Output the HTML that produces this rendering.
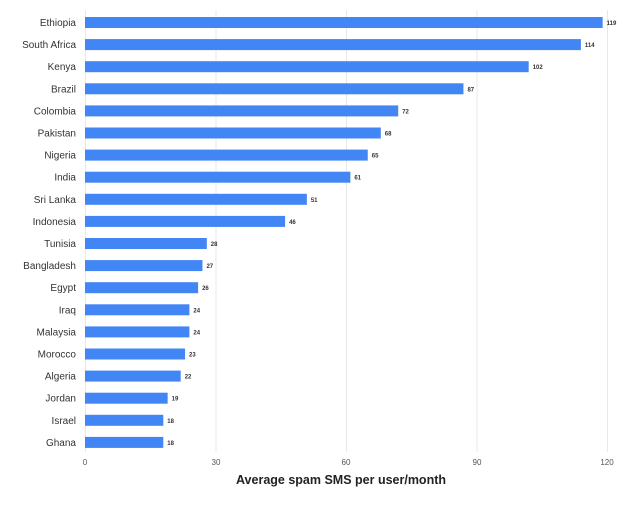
<!DOCTYPE html><html><head><style>body{margin:0;background:#fff}svg{display:block;font-family:"Liberation Sans",sans-serif}.n{font-size:10px;fill:#333;text-anchor:end}.v{font-size:6px;font-weight:bold;fill:#333}</style></head><body>
<svg width="644" height="505" xmlns="http://www.w3.org/2000/svg">
<g stroke="#e8e8e8" stroke-width="1">
<line x1="85.5" y1="10" x2="85.5" y2="452"/><line x1="216" y1="10" x2="216" y2="452"/><line x1="346.5" y1="10" x2="346.5" y2="452"/><line x1="477" y1="10" x2="477" y2="452"/><line x1="607.5" y1="10" x2="607.5" y2="452"/>
</g>
<g font-size="8" fill="#555" text-anchor="middle">
<text x="85" y="465">0</text><text x="216" y="465">30</text><text x="346" y="465">60</text><text x="477" y="465">90</text><text x="607" y="465">120</text>
</g>
<text x="341" y="484" font-size="12.5" font-weight="bold" fill="#222" text-anchor="middle">Average spam SMS per user/month</text>
<g fill="#4285f4">
<rect x="85" y="17" width="517.65" height="11"/>
<rect x="85" y="39.1" width="495.9" height="11"/>
<rect x="85" y="61.2" width="443.7" height="11"/>
<rect x="85" y="83.3" width="378.45" height="11"/>
<rect x="85" y="105.4" width="313.2" height="11"/>
<rect x="85" y="127.5" width="295.8" height="11"/>
<rect x="85" y="149.6" width="282.75" height="11"/>
<rect x="85" y="171.7" width="265.35" height="11"/>
<rect x="85" y="193.8" width="221.85" height="11"/>
<rect x="85" y="215.9" width="200.1" height="11"/>
<rect x="85" y="238" width="121.8" height="11"/>
<rect x="85" y="260.1" width="117.45" height="11"/>
<rect x="85" y="282.2" width="113.1" height="11"/>
<rect x="85" y="304.3" width="104.4" height="11"/>
<rect x="85" y="326.4" width="104.4" height="11"/>
<rect x="85" y="348.5" width="100.05" height="11"/>
<rect x="85" y="370.6" width="95.7" height="11"/>
<rect x="85" y="392.7" width="82.65" height="11"/>
<rect x="85" y="414.8" width="78.3" height="11"/>
<rect x="85" y="436.9" width="78.3" height="11"/>
</g>
<text class="n" x="76" y="26">Ethiopia</text>
<text class="n" x="76" y="48.1">South Africa</text>
<text class="n" x="76" y="70.2">Kenya</text>
<text class="n" x="76" y="92.3">Brazil</text>
<text class="n" x="76" y="114.4">Colombia</text>
<text class="n" x="76" y="136.5">Pakistan</text>
<text class="n" x="76" y="158.6">Nigeria</text>
<text class="n" x="76" y="180.7">India</text>
<text class="n" x="76" y="202.8">Sri Lanka</text>
<text class="n" x="76" y="224.9">Indonesia</text>
<text class="n" x="76" y="247">Tunisia</text>
<text class="n" x="76" y="269.1">Bangladesh</text>
<text class="n" x="76" y="291.2">Egypt</text>
<text class="n" x="76" y="313.3">Iraq</text>
<text class="n" x="76" y="335.4">Malaysia</text>
<text class="n" x="76" y="357.5">Morocco</text>
<text class="n" x="76" y="379.6">Algeria</text>
<text class="n" x="76" y="401.7">Jordan</text>
<text class="n" x="76" y="423.8">Israel</text>
<text class="n" x="76" y="445.9">Ghana</text>
<text class="v" x="606.65" y="25">119</text>
<text class="v" x="584.9" y="47.1">114</text>
<text class="v" x="532.7" y="69.2">102</text>
<text class="v" x="467.45" y="91.3">87</text>
<text class="v" x="402.2" y="113.4">72</text>
<text class="v" x="384.8" y="135.5">68</text>
<text class="v" x="371.75" y="157.6">65</text>
<text class="v" x="354.35" y="179.7">61</text>
<text class="v" x="310.85" y="201.8">51</text>
<text class="v" x="289.1" y="223.9">46</text>
<text class="v" x="210.8" y="246">28</text>
<text class="v" x="206.45" y="268.1">27</text>
<text class="v" x="202.1" y="290.2">26</text>
<text class="v" x="193.4" y="312.3">24</text>
<text class="v" x="193.4" y="334.4">24</text>
<text class="v" x="189.05" y="356.5">23</text>
<text class="v" x="184.7" y="378.6">22</text>
<text class="v" x="171.65" y="400.7">19</text>
<text class="v" x="167.3" y="422.8">18</text>
<text class="v" x="167.3" y="444.9">18</text>
</svg></body></html>
